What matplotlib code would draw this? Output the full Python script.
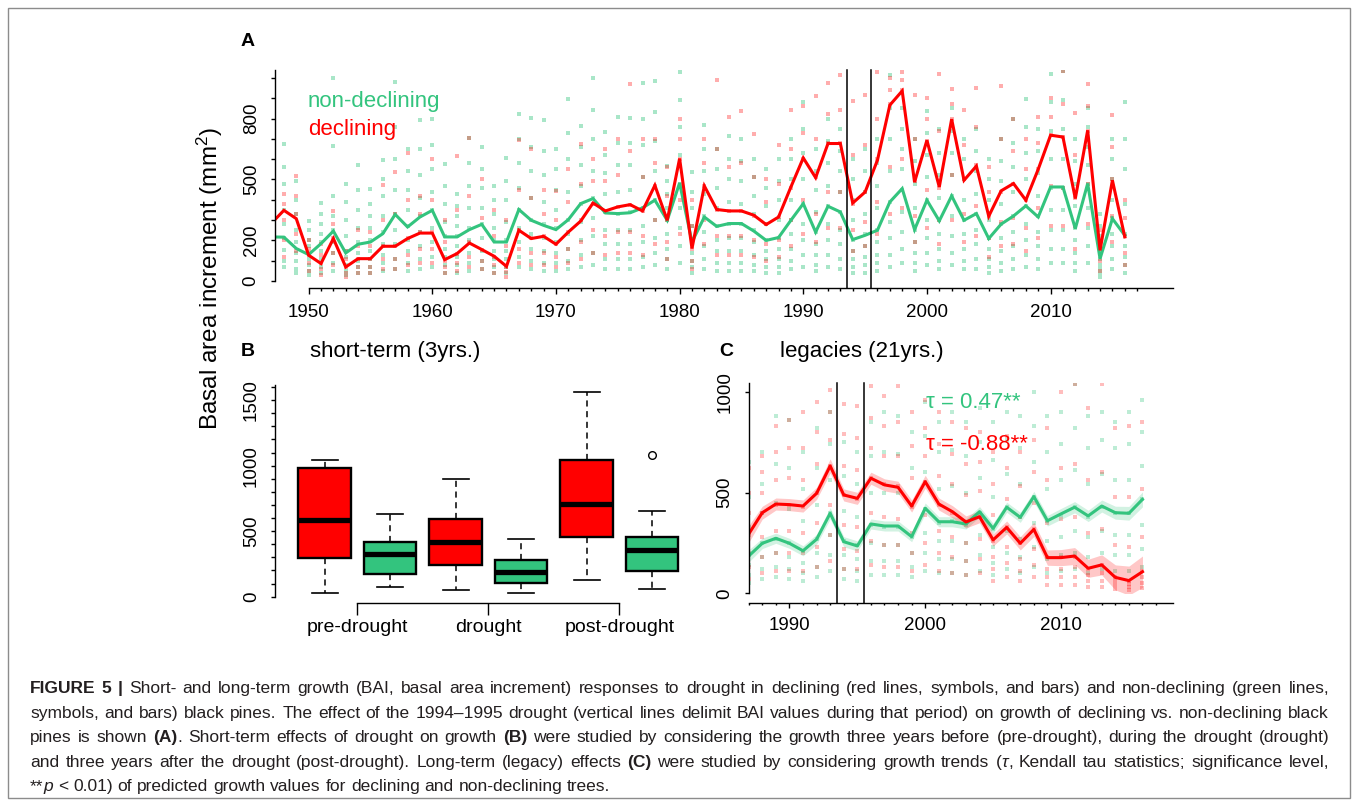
import matplotlib
matplotlib.use('Agg')
import matplotlib.pyplot as plt
import numpy as np
from matplotlib.patches import Rectangle
from matplotlib.ticker import FixedLocator, NullFormatter
from matplotlib import font_manager as fm

plt.rcParams['font.family'] = ['Liberation Sans', 'DejaVu Sans']
plt.rcParams['mathtext.fontset'] = 'custom'
plt.rcParams['mathtext.rm'] = 'Liberation Sans'
plt.rcParams['mathtext.it'] = 'Liberation Sans:italic'

# ---------------- data ----------------
a_years = list(range(1947, 2017))
a_green_line = [217, 216, 160, 130, 184, 246, 138, 181, 192, 233, 328, 266, 315, 348, 217, 217,
                253, 279, 192, 192, 352, 299, 274, 253, 302, 381, 406, 335, 332, 336, 360, 398,
                299, 483, 192, 315, 269, 283, 283, 246, 200, 214, 299, 381, 241, 368, 340, 204,
                225, 250, 389, 455, 253, 398, 296, 419, 299, 332, 209, 280, 320, 370, 315, 463,
                463, 258, 480, 110, 307, 225]
a_red_line = [285, 348, 307, 127, 86, 209, 69, 110, 110, 171, 171, 209, 236, 236, 105, 135,
              187, 155, 122, 72, 250, 209, 220, 181, 241, 295, 384, 345, 365, 376, 345, 471,
              299, 603, 160, 468, 352, 345, 345, 324, 278, 315, 463, 606, 509, 677, 677, 384,
              438, 595, 866, 936, 487, 693, 463, 797, 496, 566, 319, 444, 480, 398, 550, 718,
              709, 406, 742, 151, 496, 217]

a_dot_years = list(range(1948, 2017))
a_green_dots = [
    [677, 560, 480, 350, 283, 210, 151, 100, 69], [490, 400, 330, 250, 190, 140, 100, 60, 40],
    [296, 250, 200, 170, 140, 110, 80, 50, 30], [384, 330, 280, 230, 190, 150, 110, 70, 40],
    [1000, 667, 420, 320, 250, 190, 140, 90, 50], [480, 390, 300, 220, 150, 120, 80, 50, 30],
    [570, 450, 350, 260, 190, 140, 100, 70, 40], [452, 380, 320, 260, 200, 150, 110, 70, 40],
    [596, 500, 420, 320, 240, 180, 130, 90, 50], [980, 760, 600, 450, 330, 250, 180, 110, 60],
    [651, 540, 450, 350, 270, 200, 150, 90, 50], [791, 650, 520, 410, 320, 240, 170, 110, 60],
    [798, 670, 550, 440, 350, 260, 190, 120, 70], [575, 470, 380, 290, 220, 160, 120, 80, 40],
    [430, 370, 320, 270, 220, 170, 120, 80, 40], [704, 580, 470, 360, 260, 200, 140, 90, 50],
    [660, 550, 460, 360, 280, 210, 150, 100, 60], [468, 400, 330, 260, 200, 150, 110, 70, 40],
    [605, 490, 400, 290, 200, 150, 110, 70, 40], [824, 700, 580, 460, 350, 260, 190, 120, 70],
    [805, 660, 540, 410, 300, 230, 160, 100, 60], [791, 640, 520, 390, 280, 210, 150, 90, 50],
    [651, 550, 450, 350, 260, 190, 140, 90, 50], [898, 730, 600, 440, 300, 230, 160, 100, 60],
    [761, 660, 570, 470, 380, 290, 200, 130, 70], [1000, 840, 700, 540, 410, 310, 220, 140, 80],
    [734, 620, 530, 430, 340, 250, 180, 110, 60], [808, 680, 570, 440, 330, 250, 180, 110, 60],
    [801, 680, 570, 450, 340, 250, 180, 110, 60], [977, 800, 670, 510, 360, 270, 190, 120, 70],
    [984, 830, 690, 540, 400, 300, 210, 140, 80], [565, 490, 430, 360, 300, 230, 160, 110, 60],
    [1030, 890, 760, 620, 480, 360, 260, 170, 90], [537, 440, 360, 270, 190, 140, 100, 70, 40],
    [766, 650, 540, 430, 320, 240, 170, 110, 60], [650, 550, 460, 360, 270, 200, 150, 90, 50],
    [712, 600, 500, 390, 280, 210, 150, 90, 50], [700, 590, 490, 380, 280, 210, 150, 90, 50],
    [600, 510, 420, 330, 250, 190, 130, 80, 50], [550, 460, 370, 280, 200, 150, 110, 70, 40],
    [600, 490, 400, 300, 210, 160, 110, 70, 40], [700, 600, 500, 400, 300, 230, 160, 100, 60],
    [882, 750, 630, 500, 380, 280, 200, 130, 70], [650, 540, 450, 340, 240, 180, 130, 80, 50],
    [800, 690, 580, 470, 370, 280, 200, 130, 70], [750, 640, 540, 440, 340, 250, 180, 110, 60],
    [600, 500, 400, 300, 200, 150, 110, 70, 40], [650, 540, 440, 330, 230, 170, 120, 80, 40],
    [700, 580, 470, 360, 250, 190, 130, 90, 50], [1013, 850, 700, 540, 390, 290, 210, 130, 70],
    [850, 750, 650, 550, 450, 340, 240, 160, 90], [700, 590, 480, 360, 250, 190, 140, 90, 50],
    [838, 730, 620, 510, 400, 300, 210, 140, 80], [750, 630, 520, 410, 300, 230, 160, 100, 60],
    [850, 740, 630, 520, 420, 320, 220, 140, 80], [700, 600, 500, 400, 300, 230, 160, 100, 60],
    [750, 640, 540, 430, 330, 250, 180, 110, 60], [600, 500, 400, 300, 210, 160, 110, 70, 40],
    [700, 590, 490, 380, 280, 210, 150, 90, 50], [796, 680, 560, 440, 320, 240, 170, 110, 60],
    [898, 760, 630, 500, 370, 280, 200, 130, 70], [750, 640, 530, 420, 320, 240, 170, 110, 60],
    [1021, 880, 740, 600, 460, 350, 250, 160, 90], [1034, 890, 750, 600, 460, 350, 250, 160, 90],
    [700, 590, 480, 370, 260, 200, 140, 90, 50], [850, 760, 660, 570, 480, 360, 260, 170, 90],
    [330, 270, 220, 160, 110, 80, 60, 40, 20], [700, 600, 500, 400, 310, 230, 170, 110, 60],
    [882, 700, 550, 380, 230, 170, 120, 80, 40]]
a_red_dots = [
    [430, 380, 300, 200, 120], [517, 420, 330, 230, 150], [200, 160, 130, 90, 50],
    [180, 130, 90, 60, 30], [347, 280, 210, 140, 80], [150, 110, 70, 40, 20],
    [250, 170, 110, 70, 40], [240, 170, 110, 70, 40], [474, 300, 170, 110, 60],
    [537, 330, 170, 110, 60], [628, 400, 210, 130, 80], [420, 330, 240, 160, 90],
    [601, 400, 240, 160, 90], [300, 190, 100, 70, 40], [616, 350, 135, 90, 50],
    [702, 420, 190, 120, 70], [500, 310, 155, 100, 60], [350, 220, 120, 80, 40],
    [300, 170, 70, 45, 20], [693, 450, 250, 160, 90], [651, 410, 210, 140, 80],
    [450, 330, 220, 140, 80], [441, 300, 180, 120, 70], [550, 390, 240, 160, 90],
    [677, 480, 300, 190, 110], [600, 490, 380, 250, 140], [650, 490, 345, 220, 130],
    [700, 520, 365, 240, 140], [969, 640, 376, 240, 140], [700, 510, 345, 220, 130],
    [700, 580, 470, 300, 180], [562, 420, 300, 190, 110], [800, 700, 600, 400, 230],
    [400, 270, 160, 100, 60], [700, 580, 470, 300, 180], [988, 650, 350, 220, 130],
    [808, 560, 345, 220, 130], [838, 580, 345, 220, 130], [726, 510, 320, 200, 120],
    [500, 390, 280, 180, 100], [672, 480, 315, 200, 120], [844, 650, 460, 300, 170],
    [860, 730, 600, 400, 230], [911, 700, 510, 330, 190], [975, 820, 680, 440, 260],
    [1013, 840, 680, 440, 260], [887, 620, 380, 250, 150], [915, 670, 440, 290, 170],
    [1030, 800, 600, 390, 230], [1000, 940, 870, 560, 330], [1030, 990, 940, 600, 360],
    [915, 700, 490, 320, 190], [900, 800, 690, 450, 260], [1021, 740, 460, 300, 180],
    [944, 870, 800, 520, 300], [840, 670, 500, 330, 190], [951, 760, 570, 370, 220],
    [562, 440, 320, 210, 120], [960, 700, 440, 290, 170], [800, 640, 480, 310, 180],
    [700, 550, 400, 260, 150], [808, 680, 550, 360, 210], [900, 810, 720, 470, 270],
    [1034, 870, 710, 460, 270], [826, 620, 410, 270, 160], [972, 860, 740, 480, 280],
    [250, 200, 150, 100, 50], [818, 660, 500, 320, 190], [400, 310, 220, 140, 80]]

drought_bounds = [1993.5, 1995.5]

b_groups = ['pre-drought', 'drought', 'post-drought']
b_whislo = [25, 71, 48, 25, 130, 61]
b_q1 = [298, 173, 242, 104, 458, 198]
b_med = [585, 323, 415, 188, 705, 359]
b_q3 = [980, 415, 595, 277, 1043, 458]
b_whishi = [1043, 634, 896, 438, 1562, 656]
b_fliers = [[], [], [], [], [], [1081]]

c_years = list(range(1987, 2017))
c_green_line = [185, 248, 273, 248, 211, 268, 397, 256, 235, 344, 334, 334, 281, 422, 355,
                355, 344, 405, 322, 427, 377, 480, 360, 394, 427, 384, 433, 400, 397, 466]
c_red_line = [294, 400, 443, 440, 433, 496, 632, 488, 471, 571, 538, 526, 433, 554, 443,
              405, 354, 380, 265, 327, 248, 317, 177, 177, 185, 124, 141, 79, 63, 107]
c_green_se = [30, 26, 25, 25, 25, 25, 28, 25, 25, 25, 25, 25, 25, 26, 25,
              25, 25, 25, 25, 25, 25, 26, 26, 27, 28, 28, 30, 32, 34, 37]
c_red_se = [42, 32, 30, 30, 30, 30, 35, 30, 30, 30, 30, 30, 30, 32, 30,
            30, 30, 30, 30, 32, 33, 35, 38, 40, 42, 45, 50, 62, 72, 78]
c_green_dots = [
    [650, 480, 330, 190, 140, 90, 50], [700, 540, 400, 250, 180, 120, 70],
    [880, 640, 450, 270, 200, 130, 80], [860, 620, 420, 250, 180, 120, 70],
    [700, 520, 360, 210, 150, 100, 60], [820, 620, 440, 270, 200, 130, 80],
    [900, 740, 560, 400, 290, 190, 110], [750, 580, 410, 260, 190, 120, 70],
    [700, 540, 380, 240, 170, 110, 60], [850, 680, 500, 340, 250, 160, 90],
    [900, 700, 500, 330, 240, 160, 90], [880, 690, 500, 330, 240, 160, 90],
    [800, 620, 440, 280, 200, 130, 80], [950, 780, 600, 420, 300, 200, 110],
    [850, 700, 520, 350, 260, 170, 100], [900, 710, 530, 360, 260, 170, 100],
    [850, 680, 500, 340, 250, 160, 90], [920, 750, 570, 400, 290, 190, 110],
    [850, 660, 480, 320, 230, 150, 90], [900, 760, 590, 430, 310, 200, 120],
    [880, 720, 540, 380, 270, 180, 100], [1000, 830, 650, 480, 350, 230, 130],
    [880, 700, 520, 360, 260, 170, 100], [900, 740, 560, 390, 280, 190, 110],
    [1040, 820, 610, 430, 310, 200, 120], [880, 720, 540, 380, 280, 180, 100],
    [900, 760, 590, 430, 310, 200, 120], [850, 720, 560, 400, 290, 190, 110],
    [900, 740, 560, 400, 290, 190, 110], [960, 800, 630, 470, 340, 220, 130]]
c_red_dots = [
    [620, 500, 400, 290, 200, 130, 70], [680, 600, 500, 400, 280, 180, 100],
    [830, 700, 560, 440, 310, 200, 110], [860, 720, 570, 440, 310, 200, 110],
    [900, 720, 560, 430, 300, 200, 110], [950, 800, 640, 500, 350, 230, 130],
    [1010, 900, 760, 630, 440, 290, 160], [940, 790, 630, 490, 340, 220, 120],
    [930, 770, 610, 470, 330, 210, 120], [1030, 870, 720, 570, 400, 260, 140],
    [980, 830, 680, 540, 380, 240, 130], [1030, 850, 680, 530, 370, 240, 130],
    [900, 730, 570, 430, 300, 200, 110], [960, 820, 680, 550, 390, 250, 140],
    [900, 740, 580, 440, 310, 200, 110], [850, 690, 540, 400, 280, 180, 100],
    [820, 640, 490, 350, 250, 160, 90], [800, 650, 510, 380, 270, 170, 100],
    [700, 540, 390, 260, 180, 120, 60], [780, 620, 470, 330, 230, 150, 80],
    [700, 530, 380, 250, 170, 110, 60], [760, 600, 450, 320, 220, 140, 80],
    [820, 560, 350, 180, 120, 80, 40], [1000, 620, 370, 180, 120, 80, 40],
    [1040, 640, 380, 180, 130, 80, 40], [920, 560, 300, 120, 90, 60, 30],
    [1040, 600, 320, 140, 100, 60, 30], [820, 480, 240, 80, 60, 40, 20],
    [830, 480, 230, 60, 45, 30, 15], [850, 520, 280, 110, 80, 50, 25]]

tau_texts = ['\u03c4 = 0.47**', '\u03c4 = -0.88**']

caption_lines = [
    "\u00a7FIGURE 5 |\u00a7 Short- and long-term growth (BAI, basal area increment) responses to drought in declining (red lines, symbols, and bars) and non-declining (green lines,",
    "symbols, and bars) black pines. The effect of the 1994\u20131995 drought (vertical lines delimit BAI values during that period) on growth of declining vs. non-declining black",
    "pines is shown \u00a7(A)\u00a7. Short-term effects of drought on growth \u00a7(B)\u00a7 were studied by considering the growth three years before (pre-drought), during the drought (drought)",
    "and three years after the drought (post-drought). Long-term (legacy) effects \u00a7(C)\u00a7 were studied by considering growth trends (\u00a4\u03c4\u00a4, Kendall tau statistics; significance level,",
    "**\u00a4p\u00a4 < 0.01) of predicted growth values for declining and non-declining trees.",
]
caption_justify = [True, True, True, True, False]

# ---------------- style ----------------
RED = '#FF0000'
GREEN = '#33C47E'
W, H = 1358, 806
NUM = 13.5

fig = plt.figure(figsize=(W / 100, H / 100), dpi=100)


def px_axes(left, top, right, bottom):
    ax = fig.add_axes([left / W, 1 - bottom / H, (right - left) / W, (bottom - top) / H])
    ax.patch.set_alpha(0)
    for s in ('top', 'right'):
        ax.spines[s].set_visible(False)
    for s in ('left', 'bottom'):
        ax.spines[s].set_linewidth(1.0)
    return ax


def ftext(x, y, s, **kw):
    return fig.text(x / W, 1 - y / H, s, **kw)


def yaxis_style(ax, majors, minors, pad=8):
    ax.yaxis.set_major_locator(FixedLocator(majors))
    ax.yaxis.set_minor_locator(FixedLocator(minors))
    ax.yaxis.set_minor_formatter(NullFormatter())
    ax.tick_params(axis='y', which='both', length=3, width=1.0, pad=pad, labelsize=NUM)
    for lab in ax.get_yticklabels():
        lab.set_rotation(90)
        lab.set_va('center')


def scatter_cols(ax, years, dots, color, alpha, size):
    xs = np.repeat(years, [len(d) for d in dots])
    ys = np.concatenate([np.asarray(d, float) for d in dots])
    ax.scatter(xs, ys, marker='s', s=size, color=color, alpha=alpha, linewidths=0)


# ---------------- panel A ----------------
axA = px_axes(275, 70, 1173, 281)
axA.set_xlim(1947.28, 2019.9)
axA.set_ylim(0, 1039)
scatter_cols(axA, a_dot_years, a_green_dots, GREEN, 0.42, 5)
scatter_cols(axA, a_dot_years, a_red_dots, RED, 0.32, 5)
axA.plot(a_years, a_green_line, color=GREEN, lw=2.2, solid_joinstyle='miter')
axA.plot(a_years, a_red_line, color=RED, lw=2.2, solid_joinstyle='miter')
for xv in drought_bounds:
    axA.axvline(xv, ymin=-7 / 211, ymax=1, color='black', lw=1.1, clip_on=False)
axA.spines['bottom'].set_position(('outward', 5.0))
axA.spines['bottom'].set_bounds(1950, 2019.9)
axA.xaxis.set_major_locator(FixedLocator(list(range(1950, 2011, 10))))
axA.xaxis.set_minor_locator(FixedLocator(list(range(1950, 2018))))
axA.tick_params(axis='x', which='major', length=4.3, width=1.0, pad=7, labelsize=NUM)
axA.tick_params(axis='x', which='minor', length=2.2, width=1.0)
yaxis_style(axA, [0, 200, 500, 800], list(range(0, 1001, 100)))

ftext(241, 42, 'A', fontsize=14, fontweight='bold', va='center', ha='left')
ftext(308, 101, 'non-declining', color=GREEN, fontsize=16, va='center', ha='left')
ftext(308, 130, 'declining', color=RED, fontsize=16, va='center', ha='left')

# ---------------- panel B ----------------
axB = px_axes(275.3, 385, 701, 596.7)
axB.set_xlim(0.246, 6.745)
axB.set_ylim(0, 1616)
stats = []
for i in range(6):
    stats.append(dict(whislo=b_whislo[i], q1=b_q1[i], med=b_med[i], q3=b_q3[i],
                      whishi=b_whishi[i], fliers=b_fliers[i]))
bp = axB.bxp(stats, positions=list(range(1, 7)), widths=0.8, patch_artist=True,
             capwidths=0.4,
             boxprops=dict(edgecolor='black', linewidth=1.7),
             whiskerprops=dict(color='black', linewidth=1.1, linestyle=(0, (4, 3))),
             capprops=dict(color='black', linewidth=1.2),
             medianprops=dict(color='black', linewidth=3.8, solid_capstyle='butt'),
             flierprops=dict(marker='o', markerfacecolor='none', markeredgecolor='black',
                             markersize=5.5, markeredgewidth=1.0))
for i, box in enumerate(bp['boxes']):
    box.set_facecolor(RED if i % 2 == 0 else GREEN)
axB.spines['bottom'].set_position(('outward', 4.5))
axB.spines['bottom'].set_bounds(1.5, 5.5)
axB.set_xticks([1.5, 3.5, 5.5])
axB.set_xticklabels(b_groups)
axB.tick_params(axis='x', length=8.5, width=1.0, pad=3, labelsize=14)
yaxis_style(axB, [0, 500, 1000, 1500], list(range(0, 1601, 100)))

ftext(241, 351, 'B', fontsize=14, fontweight='bold', va='center', ha='left')
ftext(310, 351, 'short-term (3yrs.)', fontsize=16, va='center', ha='left')

# ---------------- panel C ----------------
axC = px_axes(748.7, 383.3, 1173.3, 593.3)
axC.set_xlim(1987, 2018.27)
axC.set_ylim(0, 1042)
scatter_cols(axC, c_years, c_green_dots, GREEN, 0.32, 5.5)
scatter_cols(axC, c_years, c_red_dots, RED, 0.26, 5.5)
cg = np.array(c_green_line, float)
cr = np.array(c_red_line, float)
axC.fill_between(c_years, cg - np.array(c_green_se), cg + np.array(c_green_se),
                 color=GREEN, alpha=0.22, lw=0)
axC.fill_between(c_years, cr - np.array(c_red_se), cr + np.array(c_red_se),
                 color=RED, alpha=0.22, lw=0)
axC.plot(c_years, cg, color=GREEN, lw=2.2)
axC.plot(c_years, cr, color=RED, lw=2.2)
for xv in drought_bounds:
    axC.axvline(xv, ymin=-9.5 / 210, ymax=1, color='black', lw=1.1, clip_on=False)
axC.spines['bottom'].set_position(('outward', 6.8))
axC.spines['bottom'].set_bounds(1987, 2018.27)
axC.xaxis.set_major_locator(FixedLocator([1990, 2000, 2010]))
axC.xaxis.set_minor_locator(FixedLocator(list(range(1987, 2018))))
axC.tick_params(axis='x', which='major', length=3.4, width=1.0, pad=7, labelsize=NUM)
axC.tick_params(axis='x', which='minor', length=1.7, width=1.0)
yaxis_style(axC, [0, 500, 1000], [])

ftext(719, 351, 'C', fontsize=14, fontweight='bold', va='center', ha='left')
ftext(780, 351, 'legacies (21yrs.)', fontsize=16, va='center', ha='left')
ftext(926, 403, tau_texts[0], color=GREEN, fontsize=16, va='center', ha='left')
ftext(926, 444, tau_texts[1], color=RED, fontsize=16, va='center', ha='left')

# y label
ftext(210, 278, 'Basal area increment (mm$^2$)', rotation=90, fontsize=17.5,
      va='center', ha='center')

# ---------------- frame & caption ----------------
fig.add_artist(Rectangle((8 / W, 1 - 798 / H), (1350 - 8) / W, (798 - 8) / H,
                         transform=fig.transFigure, fill=False, ec='#8c8c8c', lw=1.0))

names = {f.name for f in fm.fontManager.ttflist}
cap_family = ['Liberation Sans Narrow'] if 'Liberation Sans Narrow' in names else ['Liberation Sans']
cap_family = cap_family + ['DejaVu Sans']
renderer = fig.canvas.get_renderer()


def parse_line(line):
    state = {'b': False, 'i': False}
    words = []
    for word in line.split(' '):
        pieces, cur = [], ''
        for ch in word:
            if ch in '\u00a7\u00a4':
                if cur:
                    pieces.append((cur, state['b'], state['i']))
                    cur = ''
                if ch == '\u00a7':
                    state['b'] = not state['b']
                else:
                    state['i'] = not state['i']
            else:
                cur += ch
        if cur:
            pieces.append((cur, state['b'], state['i']))
        words.append(pieces)
    return words


def make_word(pieces, size):
    arts = []
    for txt, b, it in pieces:
        t = fig.text(0, 0, txt, fontsize=size, family=cap_family, color='#231f20',
                     fontweight='bold' if b else 'normal',
                     fontstyle='italic' if it else 'normal', ha='left', va='baseline')
        arts.append([t, t.get_window_extent(renderer).width])
    return arts


def space_width(size):
    t1 = fig.text(0, 0, 'x x', fontsize=size, family=cap_family)
    t2 = fig.text(0, 0, 'xx', fontsize=size, family=cap_family)
    w = t1.get_window_extent(renderer).width - t2.get_window_extent(renderer).width
    t1.remove()
    t2.remove()
    return w


cap_left, cap_right = 30, 1329
target = cap_right - cap_left
base = 12.0
parsed = [parse_line(l) for l in caption_lines]
nat = []
sp = space_width(base)
for words in parsed:
    arts = [make_word(p, base) for p in words]
    w = sum(a[1] for wd in arts for a in wd) + sp * (len(words) - 1)
    nat.append(w)
    for wd in arts:
        for a in wd:
            a[0].remove()
cap_size = base * target / max(nat) * 0.985
sp = space_width(cap_size)
cap_y0, cap_dy = 693, 24.6
for li, words in enumerate(parsed):
    arts = [make_word(p, cap_size) for p in words]
    widths = [sum(a[1] for a in wd) for wd in arts]
    gap = sp
    if caption_justify[li] and len(words) > 1:
        gap = (target - sum(widths)) / (len(words) - 1)
    x = cap_left
    y = cap_y0 + li * cap_dy
    for wd, ww in zip(arts, widths):
        xx = x
        for t, w in wd:
            t.set_position((xx / W, 1 - y / H))
            xx += w
        x += ww + gap

fig.savefig('out.png', dpi=100)
